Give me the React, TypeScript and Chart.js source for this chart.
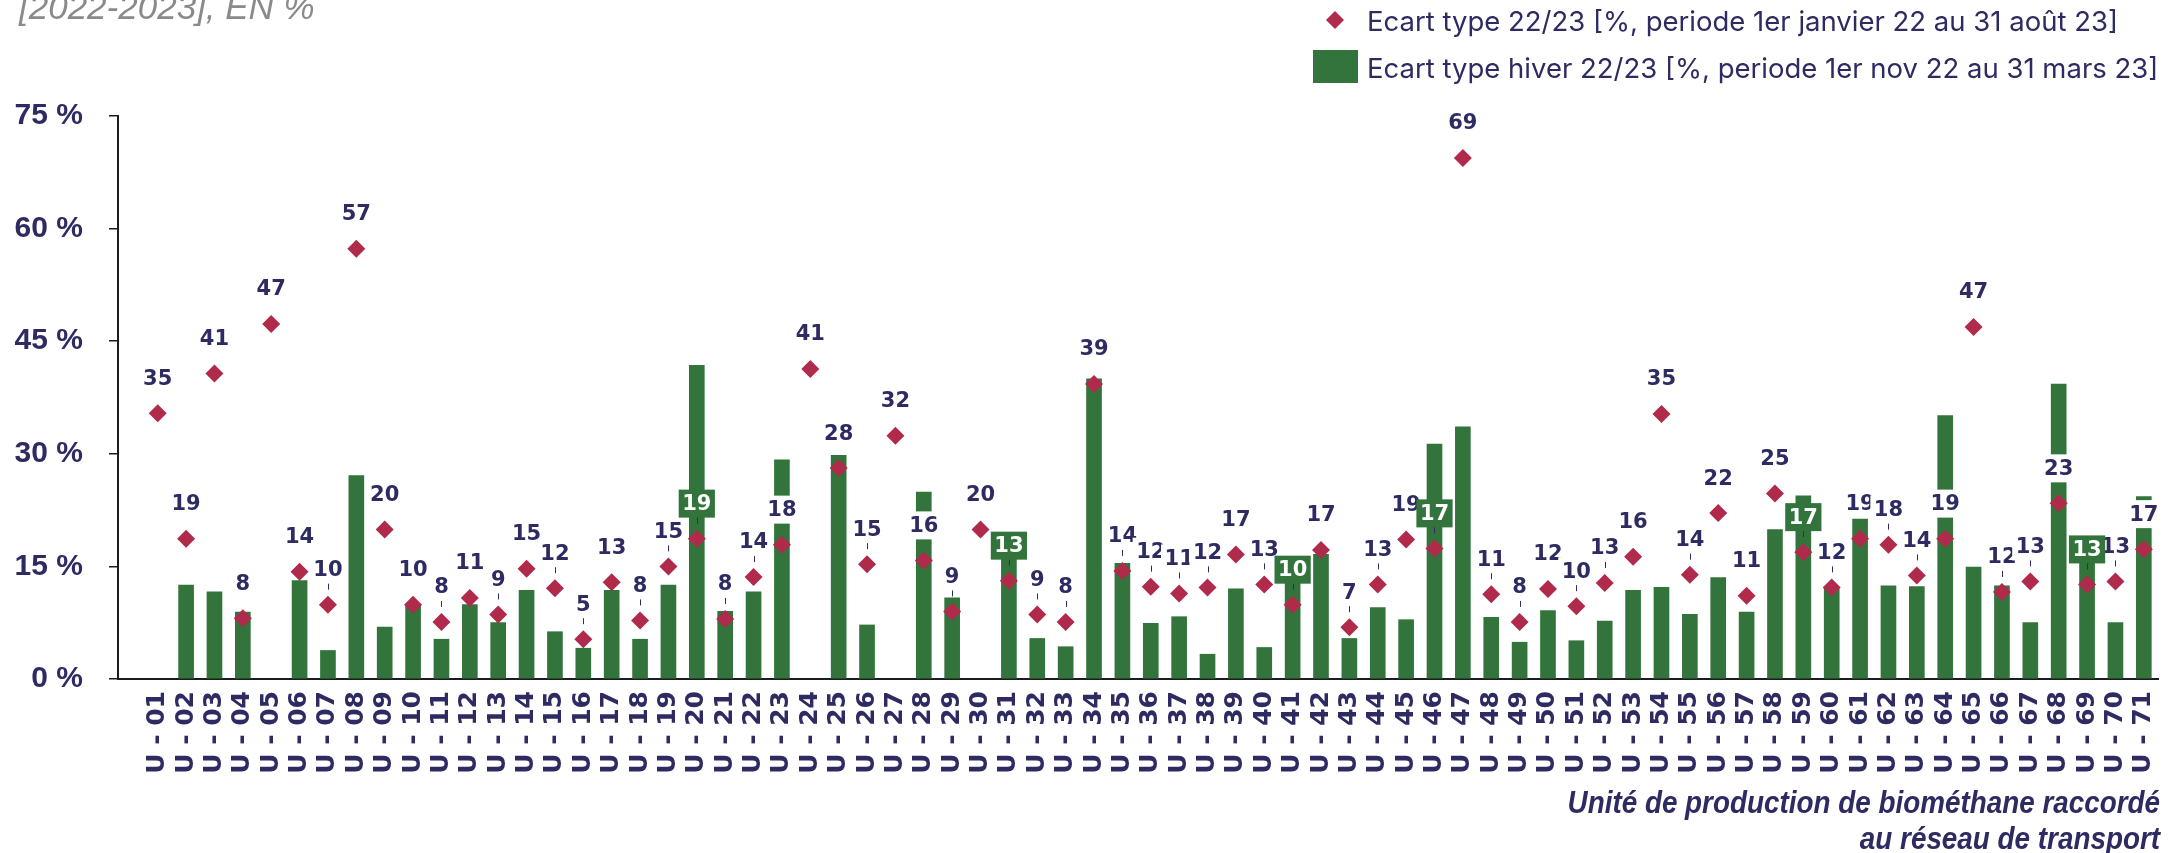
import { useEffect, useRef } from 'react';
import { Chart, registerables } from 'chart.js';

Chart.register(...registerables);

// Biomethane injection units connected to the transport grid
const units = [
  'U - 01', 'U - 02', 'U - 03', 'U - 04', 'U - 05', 'U - 06', 'U - 07', 'U - 08', 'U - 09', 'U - 10',
  'U - 11', 'U - 12', 'U - 13', 'U - 14', 'U - 15', 'U - 16', 'U - 17', 'U - 18', 'U - 19', 'U - 20',
  'U - 21', 'U - 22', 'U - 23', 'U - 24', 'U - 25', 'U - 26', 'U - 27', 'U - 28', 'U - 29', 'U - 30',
  'U - 31', 'U - 32', 'U - 33', 'U - 34', 'U - 35', 'U - 36', 'U - 37', 'U - 38', 'U - 39', 'U - 40',
  'U - 41', 'U - 42', 'U - 43', 'U - 44', 'U - 45', 'U - 46', 'U - 47', 'U - 48', 'U - 49', 'U - 50',
  'U - 51', 'U - 52', 'U - 53', 'U - 54', 'U - 55', 'U - 56', 'U - 57', 'U - 58', 'U - 59', 'U - 60',
  'U - 61', 'U - 62', 'U - 63', 'U - 64', 'U - 65', 'U - 66', 'U - 67', 'U - 68', 'U - 69', 'U - 70',
  'U - 71',
];

// Standard deviation over 1 Jan 2022 - 31 Aug 2023 (%)
const annualSpread = [
  35.4, 18.7, 40.7, 8.1, 47.3, 14.3, 9.9, 57.3, 19.9, 9.9,
  7.6, 10.8, 8.6, 14.7, 12.1, 5.3, 12.9, 7.8, 15.0, 18.7,
  8.0, 13.6, 17.9, 41.3, 28.1, 15.3, 32.4, 15.8, 9.0, 19.9,
  13.1, 8.6, 7.6, 39.3, 14.4, 12.3, 11.4, 12.2, 16.6, 12.6,
  9.9, 17.2, 6.9, 12.6, 18.6, 17.4, 69.4, 11.3, 7.6, 12.0,
  9.7, 12.8, 16.3, 35.3, 13.9, 22.1, 11.1, 24.7, 16.9, 12.2,
  18.7, 17.9, 13.8, 18.7, 46.9, 11.6, 13.0, 23.4, 12.6, 13.0,
  17.3,
];

// Standard deviation over winter, 1 Nov 2022 - 31 Mar 2023 (%)
const winterSpread = [
  null, 12.5, 11.6, 8.9, null, 13.1, 3.8, 27.1, 6.9, 9.9,
  5.3, 9.9, 7.5, 11.8, 6.3, 4.1, 11.8, 5.3, 12.5, 41.8,
  9.0, 11.6, 29.2, null, 29.8, 7.2, null, 24.9, 10.8, null,
  17.0, 5.4, 4.3, 40.0, 15.4, 7.4, 8.3, 3.3, 12.0, 4.2,
  14.0, 16.6, 5.4, 9.5, 7.9, 31.3, 33.6, 8.2, 4.9, 9.1,
  5.1, 7.7, 11.8, 12.2, 8.6, 13.5, 8.9, 19.9, 24.4, 12.0,
  21.3, 12.4, 12.3, 35.1, 14.9, 12.4, 7.5, 39.3, 17.0, 7.5,
  24.3,
];

const yTicks = [0, 15, 30, 45, 60, 75];

// Value labels shown as white text on a green tag
const taggedUnits = ['U - 20', 'U - 31', 'U - 41', 'U - 46', 'U - 59', 'U - 69'];
// Value labels joined to their marker by a short leader line
const leaderUnits = [
  'U - 07', 'U - 11', 'U - 13', 'U - 15', 'U - 16', 'U - 18', 'U - 19', 'U - 20', 'U - 21', 'U - 22',
  'U - 26', 'U - 29', 'U - 31', 'U - 32', 'U - 33', 'U - 35', 'U - 36', 'U - 37', 'U - 38', 'U - 40',
  'U - 41', 'U - 43', 'U - 44', 'U - 46', 'U - 48', 'U - 49', 'U - 51', 'U - 52', 'U - 55', 'U - 59',
  'U - 60', 'U - 62', 'U - 63', 'U - 66', 'U - 67', 'U - 69', 'U - 70',
];

const legendAnnual = 'Ecart type 22/23 [%, periode 1er janvier 22 au 31 août 23]';
const legendWinter = 'Ecart type hiver 22/23 [%, periode 1er nov 22 au 31 mars 23]';
const subtitle = '[2022-2023], EN %';
const axisTitle = ['Unité de production de biométhane raccordé', 'au réseau de transport'];

const NAVY = '#2E2B62';
const GREEN = '#33743C';
const RED = '#AF2A4B';
const AXIS = '#1C1C1C';
const GREY = '#8A8A8A';

const valueLabels = {
  id: 'valueLabels',
  afterDatasetsDraw(chart: any) {
    const ctx = chart.ctx;
    const meta = chart.getDatasetMeta(0);
    ctx.save();
    ctx.font = 'bold 21px "DejaVu Sans"';
    ctx.textAlign = 'center';
    ctx.textBaseline = 'middle';
    // plain labels first, green tags on top of them
    [false, true].forEach((pass) => {
      meta.data.forEach((pt: any, i: number) => {
        const v = annualSpread[i];
        if (v == null) return;
        const tagged = taggedUnits.includes(units[i]);
        if (tagged !== pass) return;
        const text = String(Math.round(v));
        const w = ctx.measureText(text).width + 7;
        const top = pt.y - 49;
        ctx.fillStyle = tagged ? GREEN : '#FFFFFF';
        ctx.fillRect(pt.x - w / 2, top, w, 28);
        ctx.fillStyle = tagged ? '#FFFFFF' : NAVY;
        ctx.fillText(text, pt.x, top + 15);
        if (leaderUnits.includes(units[i])) {
          ctx.strokeStyle = NAVY;
          ctx.lineWidth = 1;
          ctx.beginPath();
          ctx.moveTo(Math.round(pt.x) + 0.5, pt.y - 21);
          ctx.lineTo(Math.round(pt.x) + 0.5, pt.y - 15);
          ctx.stroke();
        }
      });
    });
    ctx.restore();
  },
};

const decorations = {
  id: 'decorations',
  afterDraw(chart: any) {
    const ctx = chart.ctx;
    ctx.save();

    // subtitle, top left
    ctx.fillStyle = GREY;
    ctx.font = 'italic 35px "Liberation Sans"';
    ctx.textAlign = 'left';
    ctx.textBaseline = 'alphabetic';
    ctx.fillText(subtitle, 19, 19);

    // legend, top right
    ctx.fillStyle = RED;
    ctx.beginPath();
    ctx.moveTo(1335, 11);
    ctx.lineTo(1344, 20);
    ctx.lineTo(1335, 29);
    ctx.lineTo(1326, 20);
    ctx.closePath();
    ctx.fill();
    ctx.fillStyle = GREEN;
    ctx.fillRect(1313, 50, 45, 33);
    ctx.fillStyle = NAVY;
    ctx.font = '27.5px Inter';
    ctx.textBaseline = 'alphabetic';
    ctx.fillText(legendAnnual, 1367, 31);
    ctx.fillText(legendWinter, 1367, 78);

    // axis title, bottom right
    ctx.font = 'italic bold 32px "Liberation Sans"';
    ctx.textAlign = 'right';
    axisTitle.forEach((line, k) => {
      ctx.save();
      ctx.translate(2160, 813 + k * 36);
      ctx.scale(0.87, 1);
      ctx.fillText(line, 0, 0);
      ctx.restore();
    });

    ctx.restore();
  },
};

export default function App() {
  const canvasRef = useRef<HTMLCanvasElement | null>(null);

  useEffect(() => {
    document.body.style.margin = '0';
    const canvas = canvasRef.current;
    if (!canvas) return;

    const chart = new Chart(canvas, {
      data: {
        datasets: [
          {
            type: 'line',
            label: legendAnnual,
            data: annualSpread.map((v, i) => ({ x: i + 1, y: v })),
            showLine: false,
            pointStyle: 'rectRot',
            pointRadius: 9,
            pointBackgroundColor: RED,
            pointBorderWidth: 0,
            order: 0,
          },
          {
            type: 'bar',
            label: legendWinter,
            data: winterSpread.map((v, i) => ({ x: i + 1, y: v })),
            backgroundColor: GREEN,
            barThickness: 15,
            order: 1,
          },
        ],
      } as any,
      options: {
        animation: false,
        responsive: false,
        devicePixelRatio: 1,
        layout: { padding: { top: 116, right: 14, left: 0, bottom: 0 } },
        plugins: {
          legend: { display: false },
          tooltip: { enabled: false },
        },
        scales: {
          x: {
            type: 'linear',
            offset: false,
            min: -0.4,
            max: 71.5,
            afterBuildTicks: (s: any) => {
              s.ticks = units.map((_, i) => ({ value: i + 1 }));
            },
            afterFit: (s: any) => {
              s.height = 174;
              s.paddingLeft = 0;
              s.paddingRight = 0;
            },
            grid: { display: false, drawTicks: false },
            border: { display: true, color: AXIS, width: 2 },
            ticks: {
              autoSkip: false,
              minRotation: 90,
              maxRotation: 90,
              padding: 12,
              color: NAVY,
              font: { family: 'DejaVu Sans', weight: 'bold', size: 25 },
              callback: (v: any) => units[Number(v) - 1] ?? '',
            },
          },
          y: {
            min: 0,
            max: 75,
            afterBuildTicks: (s: any) => {
              s.ticks = yTicks.map((v) => ({ value: v }));
            },
            afterFit: (s: any) => {
              s.width = 118;
              s.paddingTop = 0;
              s.paddingBottom = 0;
            },
            grid: { drawOnChartArea: false, drawTicks: true, tickLength: 9, color: AXIS, lineWidth: 1.5 },
            border: { display: true, color: AXIS, width: 2 },
            ticks: {
              padding: 26,
              color: NAVY,
              font: { family: 'Liberation Sans', weight: 'bold', size: 30 },
              callback: (v: any) => `${v} %`,
            },
          },
        },
      } as any,
      plugins: [valueLabels, decorations],
    });

    return () => chart.destroy();
  }, []);

  return <canvas ref={canvasRef} width={2172} height={853} style={{ display: 'block' }} />;
}
